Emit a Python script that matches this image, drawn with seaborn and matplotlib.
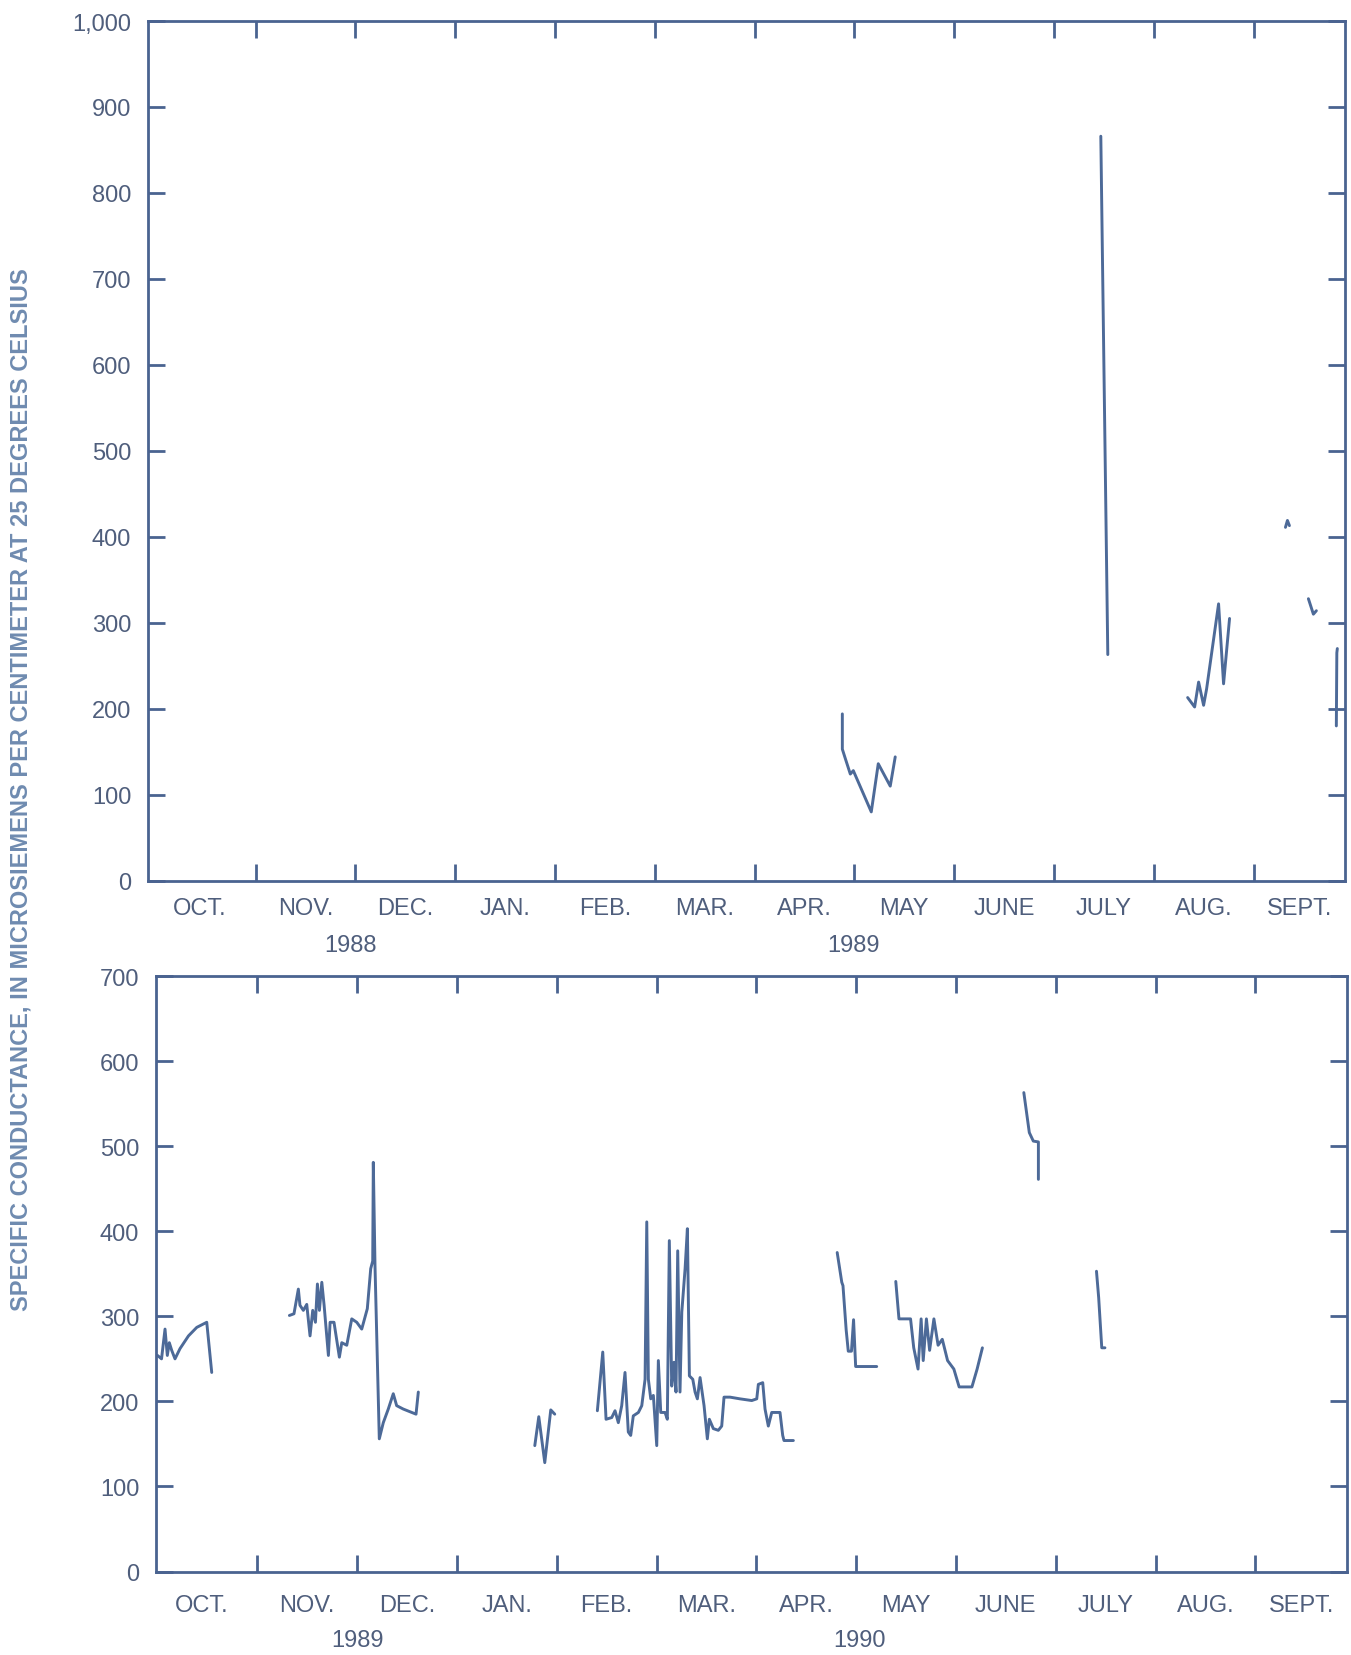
import matplotlib
matplotlib.use("Agg")
import matplotlib.pyplot as plt
import seaborn as sns
import pandas as pd
from matplotlib.ticker import FuncFormatter

# ---------------- data (x = months since Oct 1 of the water year) -------------
months = ["OCT.", "NOV.", "DEC.", "JAN.", "FEB.", "MAR.", "APR.", "MAY", "JUNE", "JULY", "AUG.", "SEPT."]
month_label_pos = [0.44, 1.5, 2.5, 3.5, 4.5, 5.5, 6.5, 7.5, 8.5, 9.5, 10.5, 11.46]
month_ticks = [1, 2, 3, 4, 5, 6, 7, 8, 9, 10, 11]

top_years = ["1988", "1989"]
top_year_pos = [1.95, 6.99]
bot_years = ["1989", "1990"]
bot_year_pos = [2.0, 7.03]

# Water year 1989 (top panel)
top_apr_m = [6.88, 6.88, 6.91, 6.96, 6.99, 7.17, 7.24, 7.36, 7.41]
top_apr_v = [194, 153, 142, 124, 128, 80, 136, 110, 144]
top_jul_m = [9.47, 9.54]
top_jul_v = [866, 263]
top_aug_m = [10.34, 10.41, 10.45, 10.50, 10.53, 10.65, 10.70, 10.76]
top_aug_v = [213, 202, 231, 204, 223, 322, 229, 305]
top_sep1_m = [11.32, 11.34, 11.36]
top_sep1_v = [411, 419, 413]
top_sep2_m = [11.55, 11.60, 11.63]
top_sep2_v = [328, 310, 314]
top_sep3_m = [11.84, 11.835, 11.83]
top_sep3_v = [270, 265, 180]

# Water year 1990 (bottom panel)
bot_oct_m = [0.0, 0.04, 0.075, 0.098, 0.118, 0.142, 0.175, 0.225, 0.31, 0.393, 0.493, 0.543]
bot_oct_v = [254, 250, 285, 254, 269, 260, 250, 262, 277, 287, 293, 234]
bot_nov_m = [1.321, 1.367, 1.411, 1.427, 1.461, 1.495, 1.528, 1.555, 1.582, 1.602, 1.622, 1.646,
             1.669, 1.712, 1.729, 1.768, 1.822, 1.846, 1.896, 1.946, 1.996, 2.046, 2.102, 2.136,
             2.156, 2.162, 2.179, 2.222, 2.262, 2.312, 2.362, 2.396, 2.462, 2.59, 2.613]
bot_nov_v = [301, 303, 332, 313, 307, 314, 277, 307, 293, 338, 307, 340,
             313, 254, 293, 293, 252, 269, 266, 297, 293, 285, 309, 356,
             365, 481, 359, 156, 175, 191, 209, 195, 191, 185, 211]
bot_jan_m = [3.78, 3.82, 3.88, 3.94, 3.98]
bot_jan_v = [148, 182, 128, 190, 185]
bot_feb_m = [4.407, 4.461, 4.494, 4.551, 4.584, 4.617, 4.651, 4.684, 4.717, 4.741, 4.767, 4.818,
             4.852, 4.885, 4.902, 4.918, 4.942, 4.968, 5.002, 5.018, 5.042, 5.085, 5.108, 5.128,
             5.152, 5.175, 5.195, 5.212, 5.235, 5.253, 5.286, 5.309, 5.329, 5.363, 5.386, 5.409,
             5.436, 5.476, 5.509, 5.529, 5.569, 5.619, 5.653, 5.676, 5.736, 5.836, 5.954, 6.004,
             6.020, 6.064, 6.087, 6.120, 6.154, 6.237, 6.264, 6.277, 6.371]
bot_feb_v = [189, 258, 179, 181, 189, 175, 195, 234, 164, 160, 183, 187,
             195, 226, 411, 226, 203, 207, 148, 248, 187, 187, 179, 389,
             218, 246, 211, 377, 211, 305, 356, 403, 230, 226, 211, 203,
             228, 195, 156, 179, 168, 166, 171, 205, 205, 203, 201, 203,
             220, 222, 191, 171, 187, 187, 160, 154, 154]
bot_apr_m = [6.81, 6.856, 6.868, 6.90, 6.921, 6.953, 6.974, 6.995, 7.206]
bot_apr_v = [375, 340, 336, 284, 259, 259, 296, 241, 241]
bot_may_m = [7.397, 7.429, 7.545, 7.577, 7.62, 7.651, 7.672, 7.704, 7.736, 7.779, 7.821, 7.863,
             7.916, 7.979, 8.032, 8.16, 8.212, 8.265]
bot_may_v = [341, 297, 297, 263, 238, 297, 248, 297, 260, 297, 266, 273,
             248, 238, 217, 217, 238, 263]
bot_jun_m = [8.68, 8.735, 8.775, 8.826, 8.826]
bot_jun_v = [563, 516, 506, 505, 461]
bot_jul_m = [9.408, 9.43, 9.461, 9.493]
bot_jul_v = [353, 322, 263, 263]

top_segments = [(top_apr_m, top_apr_v), (top_jul_m, top_jul_v), (top_aug_m, top_aug_v),
                (top_sep1_m, top_sep1_v), (top_sep2_m, top_sep2_v), (top_sep3_m, top_sep3_v)]
bot_segments = [(bot_oct_m, bot_oct_v), (bot_nov_m, bot_nov_v), (bot_jan_m, bot_jan_v),
                (bot_feb_m, bot_feb_v), (bot_apr_m, bot_apr_v), (bot_may_m, bot_may_v),
                (bot_jun_m, bot_jun_v), (bot_jul_m, bot_jul_v)]


def to_frame(segments):
    rows = []
    for i, (ms, vs) in enumerate(segments):
        for k, (m, v) in enumerate(zip(ms, vs)):
            rows.append({"seg": i, "order": k, "m": m, "v": v})
    return pd.DataFrame(rows)


# ---------------- style ----------------
sns.set_style("white")
plt.rcParams["font.family"] = ["Liberation Sans", "DejaVu Sans"]

LINE = "#4d6a98"
SPINE = "#4a6390"
TEXT = "#4f5e7c"
YLAB = "#6f8bb0"
FS = 17

fig = plt.figure(figsize=(13.51, 16.56), dpi=100)
ax1 = fig.add_axes([0.1095, 0.4676, 0.886, 0.5191])
ax2 = fig.add_axes([0.1155, 0.0504, 0.8816, 0.3596])


def style_axis(ax, ymax, xlim, label_pad, years, year_pos, year_offset):
    ax.set_xlim(*xlim)
    ax.set_ylim(0, ymax)
    for s in ax.spines.values():
        s.set_visible(True)
        s.set_color(SPINE)
        s.set_linewidth(2.0)
    ax.set_xticks(month_ticks)
    ax.set_xticklabels([])
    ax.set_xticks(month_label_pos, minor=True)
    ax.set_xticklabels(months, minor=True)
    ax.tick_params(axis="x", which="major", direction="in", length=12, width=2,
                   color=SPINE, top=True, bottom=True)
    ax.tick_params(axis="x", which="minor", length=0, pad=label_pad,
                   labelsize=FS, labelcolor=TEXT, top=False, bottom=True)
    ax.set_yticks(list(range(0, ymax + 1, 100)))
    ax.yaxis.set_major_formatter(FuncFormatter(lambda v, p: f"{int(v):,}"))
    ax.tick_params(axis="y", direction="in", length=12, width=2, color=SPINE,
                   left=True, right=True, pad=12, labelsize=FS, labelcolor=TEXT)
    ax.set_xlabel("")
    ax.set_ylabel("")
    for yr, pos in zip(years, year_pos):
        ax.annotate(yr, xy=(pos, 0), xycoords=("data", "axes fraction"),
                    xytext=(0, -year_offset), textcoords="offset points",
                    ha="center", va="center", fontsize=FS, color=TEXT)


for ax, segs in ((ax1, top_segments), (ax2, bot_segments)):
    df = to_frame(segs)
    sns.lineplot(data=df, x="m", y="v", units="seg", estimator=None, sort=False,
                 color=LINE, linewidth=2.1, ax=ax, legend=False)

style_axis(ax1, 1000, (-0.078, 11.916), 12, top_years, top_year_pos, 46.5)
style_axis(ax2, 700, (-0.015, 11.919), 16, bot_years, bot_year_pos, 49)

fig.text(0.0157, 0.5232,
         "SPECIFIC CONDUCTANCE, IN MICROSIEMENS PER CENTIMETER AT 25 DEGREES CELSIUS",
         rotation=90, ha="center", va="center", fontsize=17, fontweight="bold", color=YLAB)

fig.savefig("out.png", dpi=100, facecolor="white")
